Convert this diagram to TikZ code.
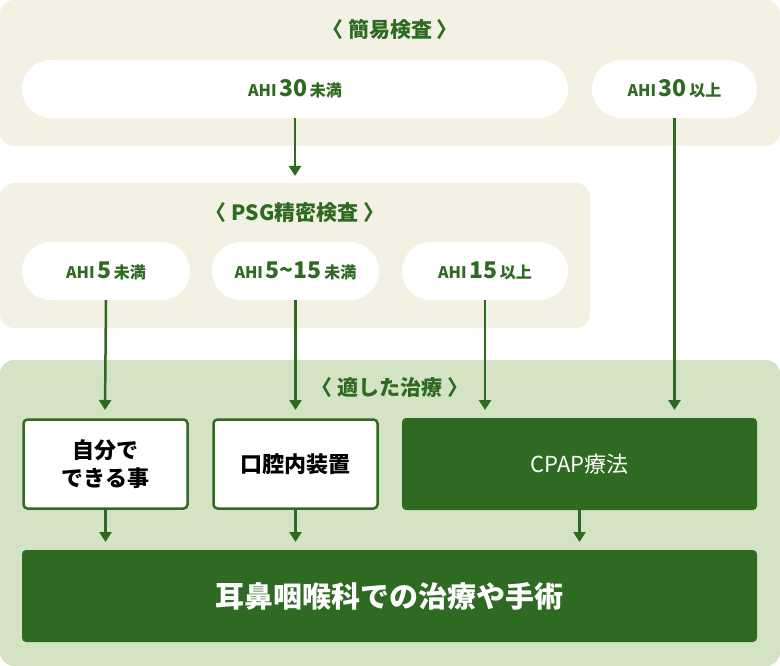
\documentclass[tikz,border=0pt]{standalone}
\usepackage{fontspec}
\setmainfont{Noto Sans CJK JP}
\usetikzlibrary{arrows.meta,positioning}
\definecolor{dkgreen}{HTML}{2F6A22}
\definecolor{beige}{HTML}{F3F1E3}
\definecolor{ltgreen}{HTML}{D3E3C4}
\newcommand{\ahinum}[1]{{\fontsize{23}{23}\selectfont #1}}
\begin{document}
\begin{tikzpicture}[x=1pt,y=-1pt,
  panel/.style={rounded corners=14pt},
  pill/.style={fill=white,rounded corners=29pt,minimum height=58pt,text=dkgreen,font=\fontsize{16}{16}\selectfont\bfseries,inner sep=0pt},
  treat/.style={draw=dkgreen,line width=2.5pt,fill=white,rounded corners=4pt,minimum height=89pt,text=black,font=\fontsize{22}{28}\selectfont\bfseries,align=center,inner sep=0pt},
  dark/.style={fill=dkgreen,rounded corners=4pt,text=white,inner sep=0pt},
  title/.style={text=dkgreen,font=\fontsize{21}{21}\selectfont\bfseries},
  arr/.style={draw=dkgreen,line width=2.5pt,-{Triangle[length=10pt,width=12pt]}}]
\useasboundingbox (0,0) rectangle (780,666);
% panels
\fill[beige,panel] (0,0) rectangle (780,146);
\fill[beige,panel] (0,183) rectangle (590,328);
\fill[ltgreen,panel] (0,360) rectangle (780,666);
\node[title] (t1) at (390,30) {〈 簡易検査 〉};
\node[title] (t2) at (295,213) {〈 PSG精密検査 〉};
\node[title] (t3) at (390,388) {〈 適した治療 〉};
% screening results
\node[pill,minimum width=546pt] (a1) at (295,89) {AHI\,\ahinum{30}\,未満};
\node[pill,minimum width=165pt] (a2) at (674.5,89) {AHI\,\ahinum{30}\,以上};
\node[pill,minimum width=168pt] (p1) at (106,271) {AHI\,\ahinum{5}\,未満};
\node[pill,minimum width=167pt] (p2) at (295.5,271) {AHI\,\ahinum{5\textasciitilde15}\,未満};
\node[pill,minimum width=166pt] (p3) at (485,271) {AHI\,\ahinum{15}\,以上};
\coordinate (psgtop) at (295,176);
% treatments
\node[treat,minimum width=164pt] (r1) at (105.5,464) {自分で\\できる事};
\node[treat,minimum width=164pt] (r2) at (295.5,464) {口腔内装置};
\node[dark,minimum width=355pt,minimum height=92pt,font=\fontsize{22}{22}\selectfont] (r3) at (579.5,464) {CPAP療法};
\node[dark,minimum width=735pt,minimum height=92pt,font=\fontsize{29}{29}\selectfont\bfseries] (ent) at (389.5,596) {耳鼻咽喉科での治療や手術};
% arrows
\draw[arr] (a1.south) -- (psgtop);
\draw[arr] (a2.south) -- (674.5,410);
\draw[arr] (p1.south) -- (105,410);
\draw[arr] (p2.south) -- (295.5,410);
\draw[arr] (p3.south) -- (485,410);
\draw[arr] (r1.south) -- (105.5,542);
\draw[arr] (r2.south) -- (295.5,542);
\draw[arr] (r3.south) -- (579.5,542);
\end{tikzpicture}
\end{document}
